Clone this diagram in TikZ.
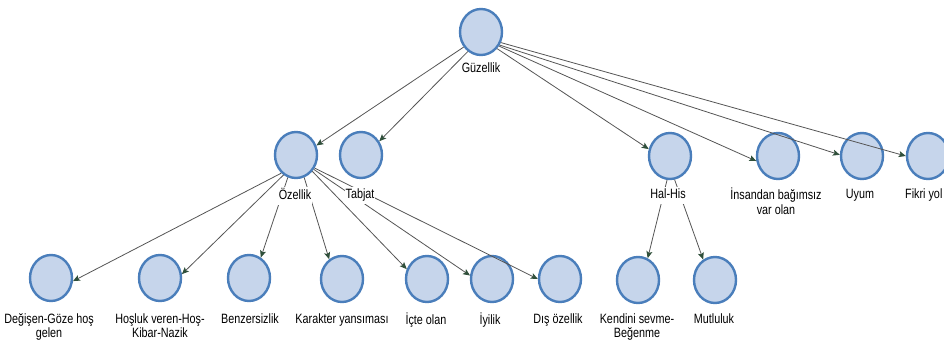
\documentclass[tikz,border=0pt]{standalone}
\usepackage{fontspec}
\setmainfont{Liberation Sans}[FakeStretch=0.8]
\usetikzlibrary{shapes.geometric,arrows.meta}
\definecolor{bubblefill}{HTML}{C6D5EB}
\definecolor{bubbleedge}{HTML}{4A7EBB}
\definecolor{linkgray}{HTML}{555555}
\definecolor{tipgreen}{HTML}{2F4F3A}

\begin{document}
\begin{tikzpicture}[x=1pt,y=-1pt,
  bubble/.style={ellipse,draw=bubbleedge,fill=bubblefill,line width=2.4pt,
    minimum width=42pt,minimum height=46pt,inner sep=0pt},
  caption/.style={font=\fontsize{13.5}{14.5}\selectfont,align=center,
    fill=white,inner sep=1pt,anchor=north},
  link/.style={draw=linkgray,line width=0.8pt,
    -{Stealth[length=7pt,width=6pt,inset=1.5pt,color=tipgreen]}}]
\useasboundingbox[fill=white] (0,0) rectangle (944,344);

% root
\node[bubble] (guz) at (481,32) {};

% second level
\node[bubble] (ozel)  at (296,155) {};
\node[bubble] (tab)   at (361,155) {};
\node[bubble] (hal)   at (670,156) {};
\node[bubble] (ins)   at (778,156) {};
\node[bubble] (uyum)  at (862,156) {};
\node[bubble] (fikri) at (928,156) {};

% third level
\node[bubble] (deg)  at (51,278)  {};
\node[bubble] (hos)  at (160,278) {};
\node[bubble] (ben)  at (249,278) {};
\node[bubble] (kar)  at (342,279) {};
\node[bubble] (icte) at (427,279) {};
\node[bubble] (iyi)  at (492,279) {};
\node[bubble] (dis)  at (560,279) {};
\node[bubble] (ken)  at (638,280) {};
\node[bubble] (mut)  at (715,280) {};

% links from the root
\draw[link] (guz.221) -- (ozel.25);
\draw[link] (guz.236) -- (tab.37);
\draw[link] (guz.-46) -- (hal.162);
\draw[link] (guz.-38) -- (ins.193);
\draw[link] (guz.-35) -- (uyum.177);
\draw[link] (guz.-28) -- (fikri.180);

% links from Özellik
\draw[link] (ozel.231) -- (deg.-8);
\draw[link] (ozel.238) -- (hos.10);
\draw[link] (ozel.250) -- (ben.60);
\draw[link] (ozel.-70) -- (kar.123);
\draw[link] (ozel.-45) -- (icte.154);
\draw[link] (ozel.-39) -- (iyi.171);
\draw[link] (ozel.-35) -- (dis.180);

% links from Hal-His
\draw[link] (hal.263) -- (ken.66);
\draw[link] (hal.281) -- (mut.120);

% captions sit on white and hide the links behind them
\node[caption] (guz-l)  at (481,61) {\strut Güzellik};
\node[caption] (ozel-l) at (295,187) {\strut Özellik};
\node[caption] (tab-l)  at (360,187) {\strut Tabjat};
\node[caption] (hal-l)  at (668,187) {\strut Hal-His};
\node[caption] (ins-l)  at (776,187) {\strut İnsandan bağımsız\\var olan};
\node[caption] (uyum-l) at (860,187) {\strut Uyum};
\node[caption,anchor=north west] (fikri-l) at (904,187) {\strut Fikri yol};

\node[caption] (deg-l)  at (49,312)  {\strut Değişen-Göze hoş\\gelen};
\node[caption] (hos-l)  at (160,312) {\strut Hoşluk veren-Hoş-\\Kibar-Nazik};
\node[caption] (ben-l)  at (250,312) {\strut Benzersizlik};
\node[caption] (kar-l)  at (342,312) {\strut Karakter yansıması};
\node[caption] (icte-l) at (426,312) {\strut İçte olan};
\node[caption] (iyi-l)  at (490,312) {\strut İyilik};
\node[caption] (dis-l)  at (558,312) {\strut Dış özellik};
\node[caption] (ken-l)  at (637,312) {\strut Kendini sevme-\\Beğenme};
\node[caption] (mut-l)  at (714,312) {\strut Mutluluk};
\end{tikzpicture}
\end{document}
